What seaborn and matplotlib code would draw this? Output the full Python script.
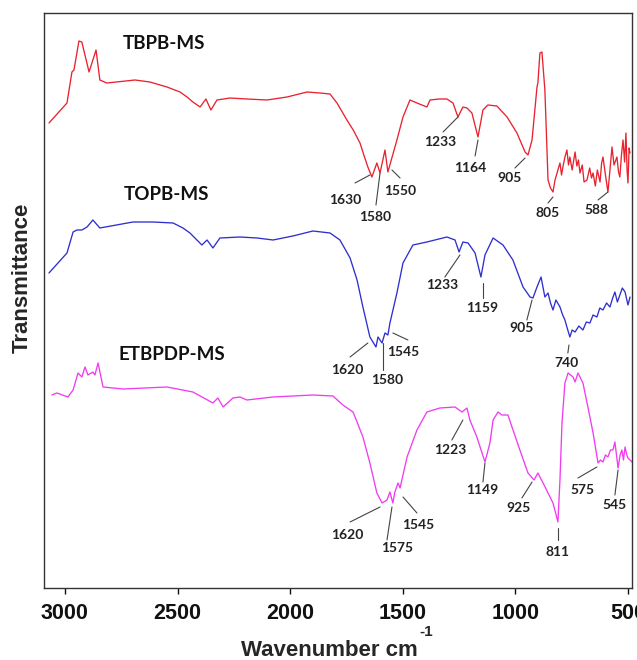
import matplotlib
matplotlib.use("Agg")
import matplotlib.pyplot as plt
import seaborn as sns
import pandas as pd
import numpy as np

# FTIR spectra (wavenumber cm-1, stacked transmittance a.u.)
wn_tbpb = [3071, 2991, 2969, 2960, 2938, 2925, 2893, 2862, 2845, 2814, 2689, 2623,
           2547, 2489, 2458, 2432, 2400, 2374, 2352, 2325, 2267, 2192, 2103, 2014,
           1925, 1868, 1823, 1792, 1748, 1720, 1690, 1670, 1655, 1637, 1615, 1601,
           1579, 1566, 1526, 1499, 1468, 1437, 1393, 1379, 1340, 1304, 1277, 1255,
           1233, 1215, 1193, 1166, 1144, 1122, 1082, 1037, 993, 957, 944, 926,
           904, 900, 891, 882, 869, 855, 844, 833, 824, 815, 802, 795, 789, 780,
           771, 764, 758, 748, 735, 727, 720, 713, 703, 695, 682, 670, 662, 655,
           645, 636, 624, 617, 611, 600, 589, 580, 571, 562, 549, 542, 536, 529,
           522, 515, 509, 504, 500, 495, 491]
tr_tbpb = [537, 557, 588, 590, 619, 618, 588, 610, 580, 577, 580, 578,
           573, 568, 563, 558, 553, 561, 550, 560, 562, 561, 560, 563,
           568, 567, 566, 557, 540, 530, 517, 503, 493, 483, 497, 487,
           510, 488, 520, 543, 560, 557, 553, 560, 561, 561, 557, 543,
           553, 552, 547, 523, 550, 555, 554, 543, 527, 508, 505, 520,
           573, 577, 607, 608, 570, 480, 472, 468, 480, 487, 497, 485, 493, 503,
           510, 495, 503, 490, 508, 494, 500, 487, 495, 478, 480, 492, 482, 487,
           474, 490, 478, 497, 503, 485, 468, 490, 513, 495, 503, 488, 483, 505,
           520, 498, 527, 490, 477, 512, 507]

wn_topb = [3071, 2991, 2964, 2947, 2925, 2902, 2876, 2845, 2698, 2609, 2520, 2476,
           2445, 2392, 2369, 2343, 2312, 2223, 2147, 2076, 1988, 1899, 1823, 1779,
           1734, 1703, 1677, 1646, 1619, 1610, 1592, 1579, 1566, 1557, 1526, 1499,
           1455, 1393, 1304, 1268, 1250, 1233, 1210, 1179, 1153, 1135, 1099, 1055,
           1011, 966, 935, 922, 904, 886, 869, 855, 844, 833, 820, 802, 790, 780,
           770, 758, 748, 735, 718, 700, 685, 669, 655, 638, 625, 611, 595, 580,
           568, 558, 547, 536, 525, 513, 505, 500, 491]
tr_topb = [387, 407, 428, 430, 430, 433, 440, 432, 438, 438, 437, 432,
           427, 415, 420, 412, 422, 423, 422, 420, 424, 429, 427, 420,
           402, 380, 353, 323, 313, 323, 317, 327, 325, 337, 367, 397,
           415, 418, 423, 420, 408, 418, 417, 407, 383, 405, 422, 415,
           400, 373, 363, 362, 373, 383, 363, 367, 357, 350, 360, 353, 345, 340,
           332, 323, 330, 328, 334, 330, 338, 337, 345, 343, 352, 350, 357, 353,
           362, 368, 358, 365, 372, 368, 360, 355, 363]

wn_etbpdp = [3058, 3036, 2987, 2964, 2942, 2925, 2911, 2898, 2876, 2867, 2853, 2831,
             2742, 2547, 2432, 2343, 2321, 2298, 2254, 2223, 2192, 2076, 1899, 1810,
             1766, 1721, 1703, 1677, 1646, 1615, 1592, 1570, 1557, 1544, 1535, 1521,
             1512, 1481, 1437, 1393, 1335, 1268, 1237, 1215, 1202, 1171, 1135, 1113,
             1099, 1077, 1060, 1033, 1015, 980, 944, 917, 900, 877, 855, 833, 811,
             802, 793, 780, 766, 744, 735, 722, 700, 678, 655, 633, 622, 611, 600,
             589, 578, 567, 558, 544, 535, 527, 520, 513, 505, 500, 482]
tr_etbpdp = [265, 267, 263, 270, 287, 283, 293, 285, 288, 285, 297, 273,
             271, 273, 268, 257, 262, 253, 262, 263, 260, 263, 265, 264,
             255, 248, 238, 223, 197, 167, 157, 160, 168, 157, 168, 177,
             172, 203, 230, 248, 252, 253, 248, 252, 240, 223, 198, 217,
             240, 248, 245, 245, 233, 210, 187, 180, 187, 177, 167, 157, 138,
             180, 237, 277, 287, 283, 278, 287, 277, 253, 227, 197, 200, 198, 205,
             203, 210, 210, 218, 192, 205, 210, 200, 213, 205, 202, 198]

names = ["TBPB-MS", "TOPB-MS", "ETBPDP-MS"]
colors = ["#e8232e", "#2f2fd0", "#f03cf0"]

# peak labels: text, text position, leader line start, leader line end
peak_labels = [
    ("1630", 1757, 460, 1712, 477, 1646, 485),
    ("1580", 1623, 443, 1619, 455, 1601, 487),
    ("1550", 1512, 469, 1512, 482, 1548, 490),
    ("1233", 1335, 518, 1321, 528, 1255, 543),
    ("1164", 1202, 492, 1179, 504, 1166, 520),
    ("905", 1024, 482, 1002, 492, 957, 502),
    ("805", 855, 447, 855, 457, 833, 463),
    ("588", 638, 450, 633, 460, 589, 468),
    ("1620", 1748, 290, 1734, 303, 1655, 317),
    ("1580", 1570, 280, 1588, 290, 1588, 317),
    ("1545", 1499, 308, 1477, 320, 1544, 327),
    ("1233", 1326, 375, 1313, 383, 1246, 405),
    ("1159", 1148, 352, 1144, 362, 1144, 377),
    ("905", 971, 332, 949, 340, 926, 360),
    ("740", 771, 297, 767, 307, 762, 315),
    ("1620", 1748, 125, 1734, 138, 1601, 153),
    ("1575", 1526, 112, 1570, 120, 1548, 153),
    ("1545", 1433, 135, 1437, 147, 1499, 163),
    ("1223", 1290, 210, 1282, 220, 1233, 240),
    ("1149", 1148, 170, 1144, 178, 1135, 197),
    ("925", 988, 152, 971, 162, 926, 178),
    ("811", 811, 108, 811, 120, 811, 132),
    ("575", 704, 170, 722, 182, 638, 193),
    ("545", 558, 155, 558, 165, 544, 190),
]
name_pos = [(2560, 617), (2551, 465), (2525, 305)]

sns.set_style("white")
plt.rcParams["font.family"] = ["Liberation Sans", "DejaVu Sans"]

fig = plt.figure(figsize=(6.37, 6.6), dpi=100)
ax = fig.add_axes([0.0691, 0.1091, 0.9231, 0.8712])

spectra = [(wn_tbpb, tr_tbpb), (wn_topb, tr_topb), (wn_etbpdp, tr_etbpdp)]
for (wn, tr), name, col in zip(spectra, names, colors):
    df = pd.DataFrame({"Wavenumber": wn, "Transmittance": tr})
    sns.lineplot(data=df, x="Wavenumber", y="Transmittance", color=col,
                 linewidth=0.95, sort=False, estimator=None, ax=ax)

for name, (x, y) in zip(names, name_pos):
    ax.text(x, y, name, fontsize=13.5, fontweight="bold", family="Lato",
            ha="center", va="center", color="#111111")

for txt, tx, ty, x0, y0, x1, y1 in peak_labels:
    ax.plot([x0, x1], [y0, y1], color="#444444", linewidth=0.8)
    ax.text(tx, ty, txt, fontsize=10, fontweight="bold", family="Lato",
            ha="center", va="center", color="#222222")

ax.set_xlim(3093, 482)
ax.set_ylim(72, 647)
ax.set_xticks([3000, 2500, 2000, 1500, 1000, 500])
ax.set_yticks([])
ax.tick_params(axis="x", direction="out", length=4, width=1, pad=7,
               labelsize=15.5, bottom=True, colors="#111111")
for lab in ax.get_xticklabels():
    lab.set_fontweight("bold")
for sp in ax.spines.values():
    sp.set_color("#333333")
    sp.set_linewidth(1.0)

ax.set_xlabel("Wavenumber cm", fontsize=16, fontweight="bold",
              va="center", ha="center")
ax.xaxis.set_label_coords(0.485, -0.108)
fig.text(419 / 637, 1 - 632 / 660, "-1", fontsize=11, fontweight="bold",
         ha="left", va="center")
ax.set_ylabel("Transmittance", fontsize=16, fontweight="bold",
              va="center", ha="center")
ax.yaxis.set_label_coords(-0.0374, 0.539)

fig.savefig("out.png", dpi=100)
